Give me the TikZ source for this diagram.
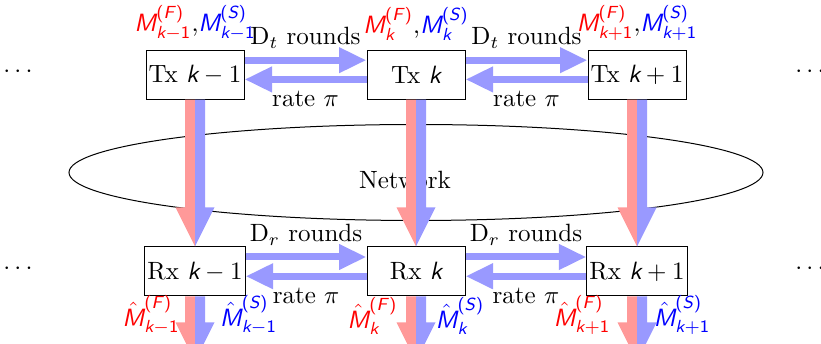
\documentclass[tikz,border=0pt]{standalone}
\usepackage{amsmath}
\usetikzlibrary{arrows.meta,calc}
\newcommand{\sv}[1]{\text{\normalfont\sffamily\itshape #1}}
\newcommand{\su}[1]{\text{\normalfont\sffamily #1}}
\newcommand{\pFS}[1]{\text{\normalfont\sffamily(\textit{#1})}}
\newcommand{\splitarrow}[2]{%
  \fill[redpart] ($(#1)+(-10,0)$) -- ($(#2)+(-10,-39)$) -- ($(#2)+(-19.5,-39)$) -- (#2) -- (#1) -- cycle;
  \fill[bluepart] ($(#1)+(10,0)$) -- ($(#2)+(10,-39)$) -- ($(#2)+(19.5,-39)$) -- (#2) -- (#1) -- cycle;}
\begin{document}
\begin{tikzpicture}[x=0.4pt,y=-0.4pt,
  box/.style={draw, fill=white, inner sep=1pt, minimum width=39.2pt, minimum height=19.6pt},
  harrow/.style={draw=blue!40, line width=2.8pt, -{Triangle[length=11pt,width=9.6pt]}},
  redpart/.style={fill=red!40},
  bluepart/.style={fill=blue!40}]
\useasboundingbox (0,0) rectangle (821,344);
% network
\draw (416,172.5) ellipse [x radius=138.8pt, y radius=19.2pt];
\node (netlbl) at (405,180) {Network};
% boxes
\node[box] (tx1) at (195,74.7) {Tx $\sv{k}-1$};
\node[box] (tx2) at (416,74.7) {Tx $\sv{k}$};
\node[box] (tx3) at (637,74.7) {Tx $\sv{k}+1$};
\node[box] (rx1) at (195,271.5) {Rx $\sv{k}-1$};
\node[box] (rx2) at (416,271.5) {Rx $\sv{k}$};
\node[box] (rx3) at (637,271.5) {Rx $\sv{k}+1$};
% dots
\node (dl1) at (20,72) {$\cdots$};
\node (dr1) at (812,72) {$\cdots$};
\node (dl2) at (20,268.5) {$\cdots$};
\node (dr2) at (812,268.5) {$\cdots$};
% vertical split arrows
\splitarrow{tx1.south}{rx1.north}
\splitarrow{tx2.south}{rx2.north}
\splitarrow{tx3.south}{rx3.north}
\coordinate (o1) at ($(rx1.south)+(0,65)$);
\coordinate (o2) at ($(rx2.south)+(0,65)$);
\coordinate (o3) at ($(rx3.south)+(0,65)$);
\splitarrow{rx1.south}{o1}
\splitarrow{rx2.south}{o2}
\splitarrow{rx3.south}{o3}
% horizontal arrows Tx
\draw[harrow] ([yshift=5.8pt]tx1.east) -- node[above]{D$_t$ rounds} ([yshift=5.8pt]tx2.west);
\draw[harrow] ([yshift=-1.9pt]tx2.west) -- node[below]{rate $\pi$} ([yshift=-1.9pt]tx1.east);
\draw[harrow] ([yshift=5.8pt]tx2.east) -- node[above]{D$_t$ rounds} ([yshift=5.8pt]tx3.west);
\draw[harrow] ([yshift=-1.9pt]tx3.west) -- node[below]{rate $\pi$} ([yshift=-1.9pt]tx2.east);
% horizontal arrows Rx
\draw[harrow] ([yshift=5.8pt]rx1.east) -- node[above]{D$_r$ rounds} ([yshift=5.8pt]rx2.west);
\draw[harrow] ([yshift=-1.9pt]rx2.west) -- node[below]{rate $\pi$} ([yshift=-1.9pt]rx1.east);
\draw[harrow] ([yshift=5.8pt]rx2.east) -- node[above]{D$_r$ rounds} ([yshift=5.8pt]rx3.west);
\draw[harrow] ([yshift=-1.9pt]rx3.west) -- node[below]{rate $\pi$} ([yshift=-1.9pt]rx2.east);
% top labels
\node[above] (lt1) at (tx1.north) {\textcolor{red}{$\sv{M}^{\pFS{F}}_{\sv{k}-\su{1}}$},\textcolor{blue}{$\sv{M}^{\pFS{S}}_{\sv{k}-\su{1}}$}};
\node[above] (lt2) at (tx2.north) {\textcolor{red}{$\sv{M}^{\pFS{F}}_{\sv{k}}$},\textcolor{blue}{$\sv{M}^{\pFS{S}}_{\sv{k}}$}};
\node[above] (lt3) at (tx3.north) {\textcolor{red}{$\sv{M}^{\pFS{F}}_{\sv{k}+\su{1}}$},\textcolor{blue}{$\sv{M}^{\pFS{S}}_{\sv{k}+\su{1}}$}};
% bottom labels
\node (bf1) at (151,315) {\color{red}$\hat{\sv{M}}^{\pFS{F}}_{\sv{k}-\su{1}}$};
\node (bs1) at (248.5,315) {\color{blue}$\hat{\sv{M}}^{\pFS{S}}_{\sv{k}-\su{1}}$};
\node (bf2) at (372.5,316) {\color{red}$\hat{\sv{M}}^{\pFS{F}}_{\sv{k}}$};
\node (bs2) at (460,316) {\color{blue}$\hat{\sv{M}}^{\pFS{S}}_{\sv{k}}$};
\node (bf3) at (582,315) {\color{red}$\hat{\sv{M}}^{\pFS{F}}_{\sv{k}+\su{1}}$};
\node (bs3) at (682,315) {\color{blue}$\hat{\sv{M}}^{\pFS{S}}_{\sv{k}+\su{1}}$};
\end{tikzpicture}
\end{document}
